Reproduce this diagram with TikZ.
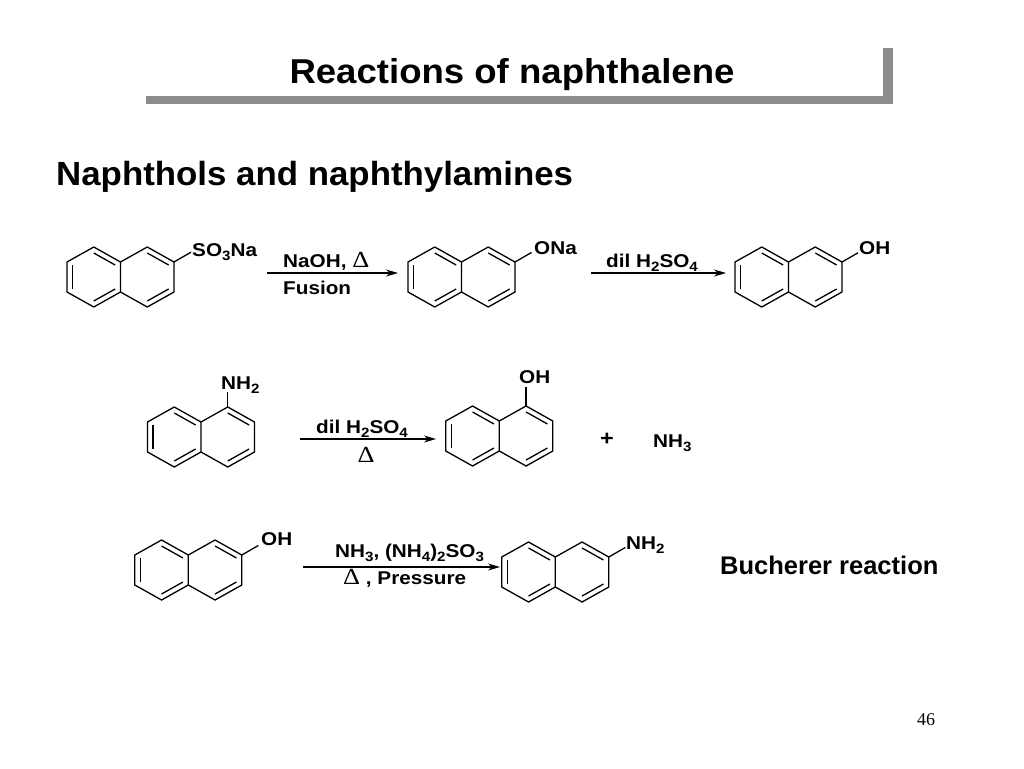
\documentclass[tikz,border=0pt]{standalone}
\usepackage{fontspec}
\setmainfont{Liberation Sans}
\newfontfamily\chemf[FakeStretch=1.12]{Liberation Sans}
\newfontfamily\titlef[FakeStretch=1.06]{Liberation Sans}
\newfontfamily\subtf[FakeStretch=1.04]{Liberation Sans}
\newfontfamily\deltaf[FakeStretch=1.15]{Liberation Serif}
\newfontfamily\pagef{Liberation Serif}
\usetikzlibrary{calc,arrows.meta}
\definecolor{bargray}{RGB}{140,140,140}
\newcommand\sbs[1]{\raisebox{-4pt}{\fontsize{13.5}{13.5}\selectfont #1}}
\newcommand\dlt{{\deltaf\mdseries\fontsize{23}{23}\selectfont Δ}}
\tikzset{
  bond/.style={line width=1.3pt, line join=miter},
  chem/.style={inner sep=0pt, anchor=base west, font={\chemf\bfseries\fontsize{18.5}{18.5}\selectfont}},
  rxn/.style={line width=1.2pt, -{Stealth[length=12pt,width=7pt]}},
}
\newcommand\naph[3]{%
\begin{scope}[shift={(#2,#3)}]
\coordinate (#1L1) at (-26.75,-30);
\coordinate (#1L2) at (-53.5,-15);
\coordinate (#1L3) at (-53.5,15);
\coordinate (#1L4) at (-26.75,30);
\coordinate (#1L5) at (0,15);
\coordinate (#1L6) at (0,-15);
\coordinate (#1R1) at (26.75,-30);
\coordinate (#1R2) at (53.5,-15);
\coordinate (#1R3) at (53.5,15);
\coordinate (#1R4) at (26.75,30);
\coordinate (#1CL) at (-26.75,0);
\coordinate (#1CR) at (26.75,0);
\draw[bond] (#1L6) -- (#1L1) -- (#1L2) -- (#1L3) -- (#1L4) -- (#1L5) -- cycle;
\draw[bond] (#1L6) -- (#1R1) -- (#1R2) -- (#1R3) -- (#1R4) -- (#1L5);
\draw[bond] ($(#1L2)!0.2!(#1CL)$) -- ($(#1L3)!0.2!(#1CL)$);
\draw[bond] ($(#1L1)!0.2!(#1CL)$) -- ($(#1L6)!0.2!(#1CL)$);
\draw[bond] ($(#1L4)!0.2!(#1CL)$) -- ($(#1L5)!0.2!(#1CL)$);
\draw[bond] ($(#1R1)!0.2!(#1CR)$) -- ($(#1R2)!0.2!(#1CR)$);
\draw[bond] ($(#1R3)!0.2!(#1CR)$) -- ($(#1R4)!0.2!(#1CR)$);
\end{scope}}
\begin{document}
\begin{tikzpicture}[x=1pt,y=-1pt]
\useasboundingbox[fill=white] (0,0) rectangle (1024,768);
% title bar
\fill[bargray] (146,96) rectangle (893,104);
\fill[bargray] (883,48) rectangle (893,104);
\node[inner sep=0pt, anchor=base, font={\titlef\bfseries\fontsize{34.5}{34.5}\selectfont}] (title) at (512,83) {Reactions of naphthalene};
\node[inner sep=0pt, anchor=base west, font={\subtf\bfseries\fontsize{33.5}{33.5}\selectfont}] (subtitle) at (56,185) {Naphthols and naphthylamines};
% row 1
\naph{m1}{120.5}{277}
\node[chem] (m1lab) at (192,256) {SO\sbs{3}Na};
\coordinate (m1b) at ($(m1R2)+(17,-9.8)$);
\draw[bond] (m1R2) -- (m1b);
\coordinate (a1s) at (267,273);
\coordinate (a1e) at (398,273);
\draw[rxn] (a1s) -- (a1e);
\node[chem] (a1top) at (283,267) {NaOH, \dlt};
\node[chem] (a1bot) at (283,294.5) {Fusion};
\naph{m2}{461.5}{277}
\node[chem] (m2lab) at (534,254) {ONa};
\coordinate (m2b) at ($(m2R2)+(16.5,-9.5)$);
\draw[bond] (m2R2) -- (m2b);
\coordinate (a2s) at (591,273);
\coordinate (a2e) at (726,273);
\draw[rxn] (a2s) -- (a2e);
\node[chem] (a2top) at (606,267) {dil H\sbs{2}SO\sbs{4}};
\naph{m3}{788.5}{277}
\node[chem] (m3lab) at (859,254) {OH};
\coordinate (m3b) at ($(m3R2)+(16,-9.2)$);
\draw[bond] (m3R2) -- (m3b);
% row 2
\naph{m4}{201}{437}
\node[chem] (m4lab) at (221,389) {NH\sbs{2}};
\coordinate (m4b) at ($(m4R1)+(0,-15)$);
\draw[bond] (m4R1) -- (m4b);
\coordinate (a3s) at (300,439);
\coordinate (a3e) at (436,439);
\draw[rxn] (a3s) -- (a3e);
\node[chem] (a3top) at (316,433) {dil H\sbs{2}SO\sbs{4}};
\node[inner sep=0pt, anchor=base] (a3bot) at (366,462) {\dlt};
\naph{m6}{499.3}{436}
\node[chem] (m6lab) at (519,383) {OH};
\coordinate (m6b) at ($(m6R1)+(0,-19)$);
\draw[bond] (m6R1) -- (m6b);
\node[chem, anchor=center, font={\chemf\bfseries\fontsize{21}{21}\selectfont}] (plus) at (607,439) {+};
\node[chem] (nh3) at (653,447) {NH\sbs{3}};
% row 3
\naph{m5}{188.3}{570}
\node[chem] (m5lab) at (261,545) {OH};
\coordinate (m5b) at ($(m5R2)+(16.5,-9.5)$);
\draw[bond] (m5R2) -- (m5b);
\coordinate (a4s) at (303,567);
\coordinate (a4e) at (500,567);
\draw[rxn] (a4s) -- (a4e);
\node[chem] (a4top) at (335,557) {NH\sbs{3}, (NH\sbs{4})\sbs{2}SO\sbs{3}};
\node[chem] (a4bot) at (343,584) {\dlt\ , Pressure};
\naph{m7}{555.3}{572}
\node[chem] (m7lab) at (626,549) {NH\sbs{2}};
\coordinate (m7b) at ($(m7R2)+(16.5,-9.5)$);
\draw[bond] (m7R2) -- (m7b);
\node[inner sep=0pt, anchor=base west, font={\bfseries\fontsize{25.5}{25.5}\selectfont}] (buch) at (720,574) {Bucherer reaction};
% page number
\node[inner sep=0pt, anchor=base west, font={\pagef\fontsize{18}{18}\selectfont}] (pagenum) at (917,725) {46};
\end{tikzpicture}
\end{document}
